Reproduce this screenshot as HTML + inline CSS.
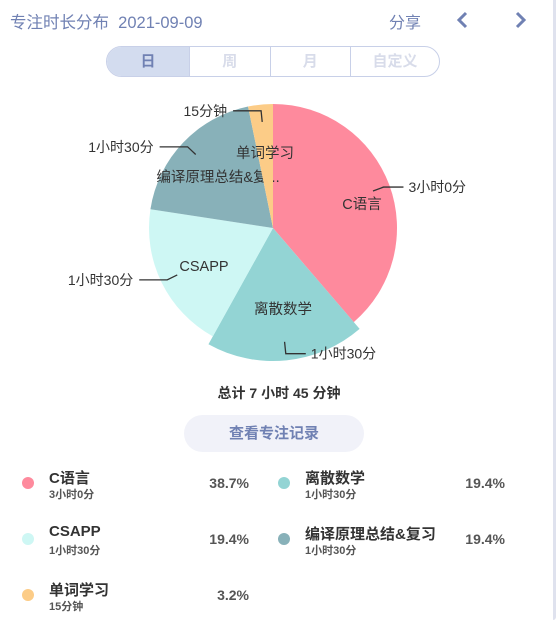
<!DOCTYPE html>
<html><head><meta charset="utf-8"><style>
body{margin:0;width:558px;height:628px;background:#fff;font-family:"Liberation Sans","Noto Sans CJK SC",sans-serif;overflow:hidden;position:relative}
.abs{position:absolute}
.title{left:10px;top:9px;font-size:16.5px;color:#7081b3}
.share{left:389px;top:9px;font-size:16px;color:#7081b3}
.seg{left:106px;top:46px;width:334px;height:31px;border:1px solid #c8d0e8;border-radius:16px;display:flex;overflow:hidden;box-sizing:border-box}
.seg div{flex:1;text-align:center;line-height:29px;font-size:15px;color:#d8dcea;border-left:1px solid #c8d0e8;font-weight:bold}
.seg div:first-child{border-left:none;background:#d3dcef;color:#7081b3;flex:0 0 82px}
.seg div:last-child{flex:0 0 88px}
.total{left:0;width:558px;top:383px;text-align:center;font-size:14px;font-weight:bold;color:#333}
.btn{left:184px;top:415px;width:180px;height:37px;border-radius:19px;background:#f1f2f9;text-align:center;line-height:37px;color:#7081b3;font-size:15px;font-weight:bold}
.li{position:absolute}
.dot{position:absolute;width:12px;height:12px;border-radius:6px}
.nm{position:absolute;font-size:15px;font-weight:bold;color:#333;white-space:nowrap}
.sub{position:absolute;font-size:11px;color:#555;white-space:nowrap;font-weight:bold}
.pc{position:absolute;font-size:14px;color:#555;font-weight:bold;text-align:right;width:60px}
.edge{left:553px;top:0;width:3px;height:620px;background:#dfe2ee;border-bottom-right-radius:8px}
</style></head><body>
<div class="abs title">专注时长分布&nbsp;&nbsp;2021-09-09</div>
<div class="abs share">分享</div>
<svg class="abs" style="left:452px;top:8px" width="80" height="24">
<polyline points="14,5 7,12 14,19" fill="none" stroke="#7081b3" stroke-width="3"/>
<polyline points="65,5 72,12 65,19" fill="none" stroke="#7081b3" stroke-width="3"/>
</svg>
<div class="abs edge"></div>
<div class="abs seg">
<div>日</div><div>周</div><div>月</div><div>自定义</div>
</div>
<svg class="abs" id="pie" style="left:0;top:0" width="558" height="380"></svg>
<div class="abs total">总计 7 小时 45 分钟</div>
<div class="abs btn">查看专注记录</div>
<div id="legend"></div>
<script>
const categories=["C语言","离散数学","CSAPP","编译原理总结&复习","单词学习"];
const minutes=[180,90,90,90,15];
const durLabels=["3小时0分","1小时30分","1小时30分","1小时30分","15分钟"];
const shortNames=["C语言","离散数学","CSAPP","编译原理总结&复...","单词学习"];
const colors=["#fe8a9d","#93d4d4","#cef7f4","#88b1b9","#fccc87"];
const enlarged=[0,1,0,0,0];
const innerPos=[[362,204],[283,309],[204,266],[218,177],[265,153]];
const NS="http://www.w3.org/2000/svg";
const svg=document.getElementById('pie');
const cx=273,cy=228,R=124;
const total=minutes.reduce((a,b)=>a+b,0);
function pt(a,r){return [cx+r*Math.sin(a),cy-r*Math.cos(a)];}
let acc=0;
minutes.forEach((v,i)=>{
  const a0=acc/total*2*Math.PI; acc+=v; const a1=acc/total*2*Math.PI; const am=(a0+a1)/2;
  const r=enlarged[i]?R+9:R;
  const p0=pt(a0,r),p1=pt(a1,r);
  const p=document.createElementNS(NS,'path');
  p.setAttribute('d',`M${cx},${cy}L${p0[0]},${p0[1]}A${r},${r} 0 ${a1-a0>Math.PI?1:0} 1 ${p1[0]},${p1[1]}Z`);
  p.setAttribute('fill',colors[i]);
  
  
  svg.appendChild(p);
  const s=pt(am,r*0.86), m=pt(am,r*0.95);
  const right=Math.sin(am)>0;
  const e=[m[0]+(right?20:-28),m[1]];
  const l=document.createElementNS(NS,'polyline');
  l.setAttribute('points',`${s[0]},${s[1]} ${m[0]},${m[1]} ${e[0]},${e[1]}`);
  l.setAttribute('fill','none');l.setAttribute('stroke','#333');l.setAttribute('stroke-width','1.3');
  
  
  svg.appendChild(l);
  const t=document.createElementNS(NS,'text');
  t.setAttribute('x',e[0]+(right?5:-6));t.setAttribute('y',e[1]+5);
  t.setAttribute('text-anchor',right?'start':'end');t.setAttribute('font-size','14');t.setAttribute('fill','#333');
  t.textContent=durLabels[i];
  
  
  svg.appendChild(t);
  const it=document.createElementNS(NS,'text');
  it.setAttribute('x',innerPos[i][0]);it.setAttribute('y',innerPos[i][1]+5);
  it.setAttribute('text-anchor','middle');it.setAttribute('font-size','14.5');it.setAttribute('fill','#333');
  it.textContent=shortNames[i];
  
  
  svg.appendChild(it);
});
const lg=document.getElementById('legend');
categories.forEach((c,i)=>{
  const col=i%2, row=Math.floor(i/2);
  const bx=col?256:0, y=row*56;
  const d=document.createElement('div');d.className='li';d.style.left=bx+'px';d.style.top=(467+y)+'px';
  
  
  d.innerHTML=`<div class="dot" style="left:22px;top:10px;background:${colors[i]}"></div><div class="nm" style="left:49px;top:0">${c}</div><div class="sub" style="left:49px;top:19px">${durLabels[i]}</div><div class="pc" style="top:8px"></div>`;
  const pc=d.querySelector('.pc');pc.style.left='189px';
  pc.textContent=(minutes[i]/total*100).toFixed(1)+'%';
  lg.appendChild(d);
});
</script>
</body></html>
